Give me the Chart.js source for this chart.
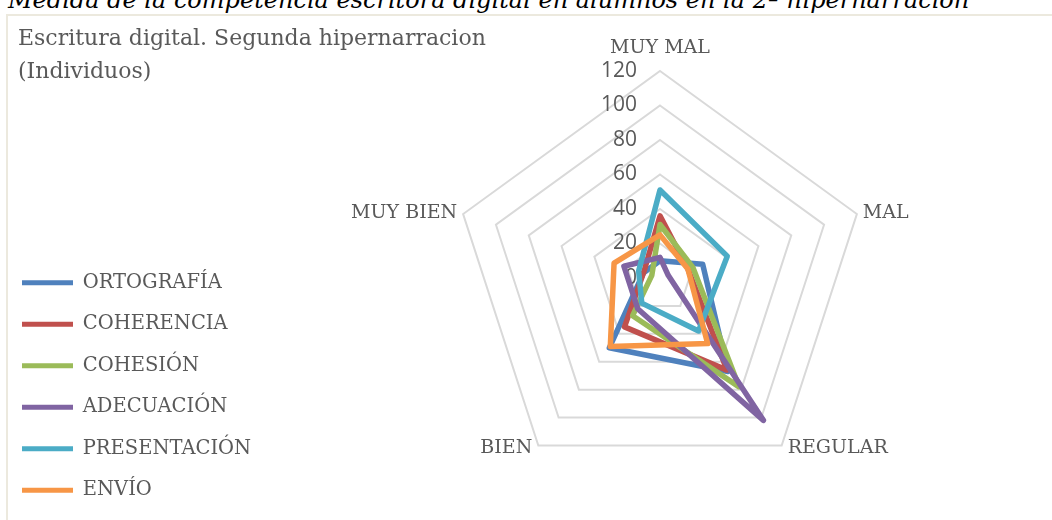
<!DOCTYPE html>
<html>
<head>
<meta charset="utf-8">
<script src="https://cdn.jsdelivr.net/npm/chart.js@4"></script>
<style>
  html, body { margin: 0; padding: 0; background: #ffffff; width: 1052px; height: 520px; overflow: hidden; position: relative; }
  #caption { position: absolute; left: 8px; top: -12px; font-family: "DejaVu Serif", serif; font-style: italic; font-size: 24px; line-height: 24px; color: #000; white-space: nowrap; }
  #frame { position: absolute; left: 6px; top: 14px; width: 1060px; height: 520px; border: 2px solid #ECE9DE; box-sizing: border-box; }
  #wrap { position: absolute; left: 0; top: 0; width: 1052px; height: 520px; }
</style>
</head>
<body>
<div id="caption">Medida de la competencia escritora digital en alumnos en la 2ª hipernarración</div>
<div id="frame"></div>
<div id="wrap"><canvas id="c" width="1052" height="520"></canvas></div>
<script>
const categories = ['MUY MAL', 'MAL', 'REGULAR', 'BIEN', 'MUY BIEN'];
const seriesNames = ['ORTOGRAFÍA', 'COHERENCIA', 'COHESIÓN', 'ADECUACIÓN', 'PRESENTACIÓN', 'ENVÍO'];
const ortografia   = [10, 26, 67, 50, 10];
const coherencia   = [36, 17, 66, 35, 10];
const cohesion     = [31, 20, 78, 27, 5];
const adecuacion   = [12, 5, 102, 22, 22];
const presentacion = [51, 41, 38, 18, 13];
const envio        = [25, 17, 47, 49, 28];
const tickValues = [0, 20, 40, 60, 80, 100, 120];
const titleLines = ['Escritura digital. Segunda hipernarracion', '(Individuos)'];

const colors = ['#4F81BD', '#C0504D', '#9BBB59', '#8064A2', '#4BACC6', '#F79646'];
const values = [ortografia, coherencia, cohesion, adecuacion, presentacion, envio];

const datasets = seriesNames.map((name, i) => ({
  label: name,
  data: values[i],
  borderColor: colors[i],
  backgroundColor: colors[i],
  borderWidth: 5.5,
  fill: false,
  pointRadius: 0,
  pointHoverRadius: 0,
  borderJoinStyle: 'round',
  borderCapStyle: 'round',
  order: seriesNames.length - i
}));

// radial axis value labels, right-aligned left of the vertical axis
const tickLabelPlugin = {
  id: 'tickLabelPlugin',
  beforeDatasetsDraw(chart) {
    const s = chart.scales.r;
    const ctx = chart.ctx;
    ctx.save();
    ctx.font = '21px "Open Sans", sans-serif';
    ctx.fillStyle = '#595959';
    ctx.textAlign = 'right';
    ctx.textBaseline = 'middle';
    tickValues.forEach(v => {
      const y = s.yCenter - s.getDistanceFromCenterForValue(v);
      ctx.fillText(String(v), s.xCenter - 23, y);
    });
    ctx.restore();
  }
};

// category labels placed beside the outer vertices of the scale
const pointLabelPlugin = {
  id: 'pointLabelPlugin',
  afterDraw(chart) {
    const s = chart.scales.r;
    const ctx = chart.ctx;
    ctx.save();
    ctx.font = '19px "DejaVu Serif", serif';
    ctx.fillStyle = '#595959';
    ctx.textBaseline = 'middle';
    categories.forEach((lab, i) => {
      const p = s.getPointPosition(i, s.drawingArea);
      const a = s.getIndexAngle(i);
      const sn = Math.sin(a), cs = Math.cos(a);
      let x = p.x, y = p.y;
      if (Math.abs(sn) < 0.1) { ctx.textAlign = 'center'; y -= 23; }
      else if (sn > 0) { ctx.textAlign = 'left'; x += 6; y += (cs < 0 ? 3 : -1); }
      else { ctx.textAlign = 'right'; x -= 6; y += (cs < 0 ? 3 : -1); }
      ctx.fillText(lab, x, y);
    });
    ctx.restore();
  }
};

const titlePlugin = {
  id: 'titlePlugin',
  afterDraw(chart) {
    const ctx = chart.ctx;
    ctx.save();
    ctx.font = '22px "DejaVu Serif", serif';
    ctx.fillStyle = '#595959';
    ctx.textAlign = 'left';
    ctx.textBaseline = 'middle';
    titleLines.forEach((t, i) => ctx.fillText(t, 18, 39 + i * 33));
    ctx.restore();
  }
};

new Chart(document.getElementById('c'), {
  type: 'radar',
  data: { labels: categories, datasets: datasets },
  options: {
    responsive: false,
    animation: false,
    layout: { padding: { left: 0, right: 0, top: -20, bottom: -2 } },
    elements: { line: { tension: 0 } },
    plugins: {
      title: { display: false },
      tooltip: { enabled: false },
      legend: {
        position: 'left',
        align: 'end',
        sort: (a, b) => a.datasetIndex - b.datasetIndex,
        labels: {
          boxWidth: 51,
          boxHeight: 5,
          padding: 22,
          color: '#595959',
          font: { family: 'DejaVu Serif', size: 19.5 },
          generateLabels(chart) {
            return chart.data.datasets.map((d, i) => ({
              text: d.label,
              fillStyle: d.borderColor,
              strokeStyle: d.borderColor,
              lineWidth: 0,
              fontColor: '#595959',
              hidden: false,
              datasetIndex: i
            }));
          }
        }
      }
    },
    scales: {
      r: {
        min: 0,
        max: 120,
        ticks: { stepSize: 20, display: false },
        grid: { color: '#D9D9D9', lineWidth: 2 },
        angleLines: { display: false },
        pointLabels: { display: false },
        afterFit(scale) {
          scale.xCenter = 660;
          scale.yCenter = 278;
          scale.drawingArea = 207;
        }
      }
    }
  },
  plugins: [tickLabelPlugin, pointLabelPlugin, titlePlugin]
});
</script>
</body>
</html>
